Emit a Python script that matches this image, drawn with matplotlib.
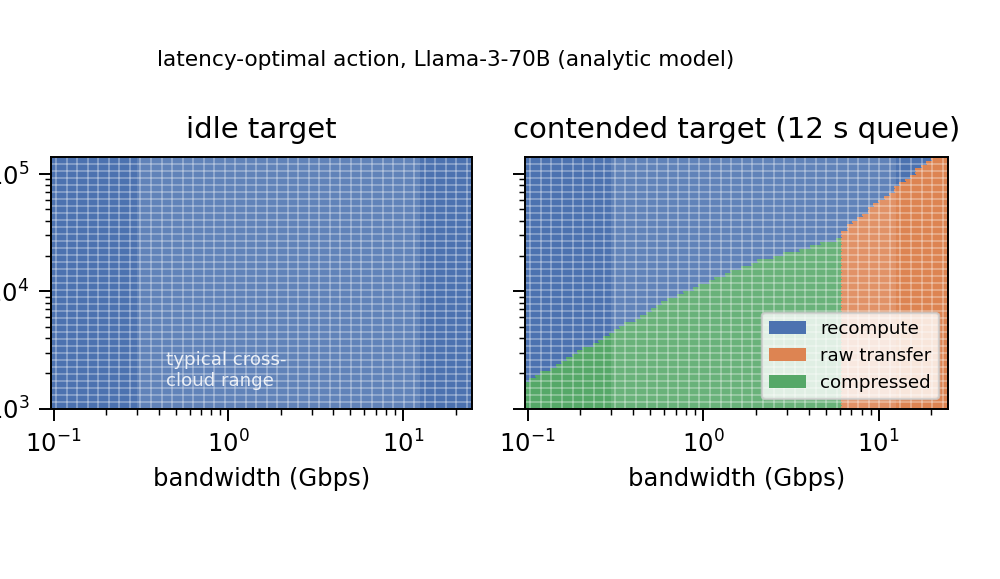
import numpy as np
import matplotlib
matplotlib.use("Agg")
import matplotlib.pyplot as plt
from matplotlib.colors import ListedColormap, BoundaryNorm
from matplotlib.patches import Patch

# ---------------- data ----------------
actions = ["recompute", "raw transfer", "compressed"]
action_colors = ["#4C72B0", "#DD8452", "#55A868"]
panel_titles = ["idle target", "contended target (12 s queue)"]
suptitle_text = "latency-optimal action, Llama-3-70B (analytic model)"
x_label = "bandwidth (Gbps)"

bw_range = [0.1, 24.0]          # Gbps, first / last sample centre
tok_range = [1e3, 1.4e5]        # context tokens
n_bw_cells = 80
n_tok_cells = 72

span_bw = [0.3, 12.5]           # typical cross-cloud bandwidth range
span_label = "typical cross-\ncloud range"

# contended target: compressed transfer wins below these context lengths
comp_bw = [0.1, 0.2, 0.5, 0.664, 1.0, 2.0, 4.0, 6.0]
comp_tok = [1730, 3130, 6920, 8850, 11560, 18200, 24150, 28700]
# contended target: raw transfer wins (for bw >= raw_min_bw) below these
raw_min_bw = 6.0
raw_bw = [6.0, 10.7, 19.0, 25.6]
raw_tok = [31600, 63000, 129000, 186000]

# idle target: recompute everywhere (no boundaries)
panels = [
    dict(comp_bw=[], comp_tok=[], raw_bw=[], raw_tok=[]),
    dict(comp_bw=comp_bw, comp_tok=comp_tok, raw_bw=raw_bw, raw_tok=raw_tok),
]

# ---------------- grid ----------------
lx = np.linspace(np.log10(bw_range[0]), np.log10(bw_range[1]), n_bw_cells)
dlx = lx[1] - lx[0]
x_edges = 10 ** np.concatenate([[lx[0] - dlx / 2], (lx[:-1] + lx[1:]) / 2, [lx[-1] + dlx / 2]])
x_c = 10 ** lx
y_edges = np.logspace(np.log10(tok_range[0]), np.log10(tok_range[1]), n_tok_cells + 1)
y_c = np.sqrt(y_edges[:-1] * y_edges[1:])
XC, YC = np.meshgrid(x_c, y_c)


def classify(p):
    grid = np.zeros(XC.shape, dtype=int)  # 0 = recompute
    if p["comp_bw"]:
        cb = 10 ** np.interp(np.log10(XC), np.log10(p["comp_bw"]), np.log10(p["comp_tok"]))
        grid[(XC < raw_min_bw) & (YC < cb)] = 2
    if p["raw_bw"]:
        rb = 10 ** np.interp(np.log10(XC), np.log10(p["raw_bw"]), np.log10(p["raw_tok"]))
        grid[(XC >= raw_min_bw) & (YC < rb)] = 1
    return grid


DPI = 175
fig = plt.figure(figsize=(1000 / DPI, 579 / DPI), dpi=DPI)
W, H = 1000, 579
ax_boxes = [
    [51 / W, (H - 408.5) / H, 421 / W, 251.5 / H],
    [525 / W, (H - 408.5) / H, 423 / W, 251.5 / H],
]
cmap = ListedColormap(action_colors)
norm = BoundaryNorm([-0.5, 0.5, 1.5, 2.5], 3)
seam = (1, 1, 1, 0.3)

axes = []
for i, (box, p, title) in enumerate(zip(ax_boxes, panels, panel_titles)):
    ax = fig.add_axes(box)
    axes.append(ax)
    grid = classify(p)
    ax.pcolormesh(x_edges, y_edges, grid, cmap=cmap, norm=norm,
                  edgecolors="face", linewidth=0.2)
    # rendering seams of the mesh
    ax.vlines(x_edges[1:-1:2], y_edges[0], y_edges[-1], colors=[seam], linewidth=0.8)
    ax.hlines(y_edges[2:-1:2], x_edges[0], x_edges[-1], colors=[seam], linewidth=0.8)
    ax.axvspan(span_bw[0], span_bw[1], color="white", alpha=0.12, lw=0)
    ax.set_xscale("log")
    ax.set_yscale("log")
    ax.set_xlim(x_edges[0], x_edges[-1])
    ax.set_ylim(tok_range)
    ax.set_title(title, fontsize=12, pad=8)
    ax.set_xlabel(x_label, fontsize=10)
    ax.tick_params(labelsize=10, which="major", length=5, pad=4)
    ax.tick_params(which="minor", length=2.6)
    if i == 0:
        ax.text(0.44, 1450, span_label, color="white", alpha=0.85,
                fontsize=7.5, ha="left", va="bottom")
    else:
        ax.tick_params(labelleft=False)

handles = [Patch(facecolor=c, label=a) for a, c in zip(actions, action_colors)]
axes[1].legend(handles=handles, loc="lower right", fontsize=7.5)

fig.text(446 / W, 1 - 60 / H, suptitle_text, ha="center", va="center", fontsize=8.9)

fig.savefig("out.png", dpi=DPI)
